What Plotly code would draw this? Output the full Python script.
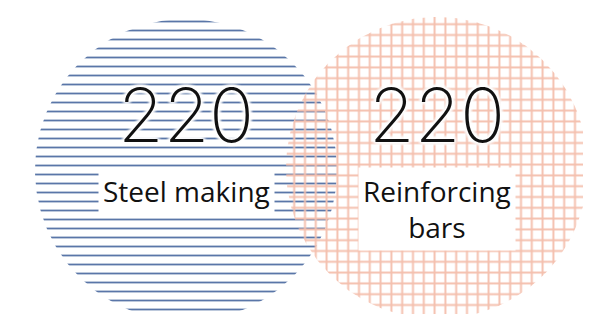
import numpy as np
import plotly.graph_objects as go

# ---- data ----
set_names = ["Steel making", "Reinforcing bars"]
set_labels = ["Steel making", "Reinforcing<br>bars"]
set_values = [220, 220]

# ---- style / layout ----
W, H = 591, 314
centers = [(178, 162), (429, 160)]
radius_scale = 151 / np.sqrt(220)
patterns = [
    dict(shape="-", fgcolor="#5a76a8", bgcolor="rgba(0,0,0,0)", size=9, solidity=0.2, fillmode="replace"),
    dict(shape="+", fgcolor="#f4c0ae", bgcolor="rgba(0,0,0,0)", size=10.8, solidity=0.33, fillmode="replace"),
]

fig = go.Figure()
t = np.linspace(0, 2 * np.pi, 241)
for name, val, (cx, cy), pat in zip(set_names, set_values, centers, patterns):
    r = radius_scale * np.sqrt(val)
    fig.add_trace(go.Scatter(
        x=cx + r * np.cos(t), y=cy + r * np.sin(t),
        mode="lines", line=dict(width=0), fill="toself",
        fillcolor="rgba(0,0,0,0)", fillpattern=pat,
        name=name, hoverinfo="skip", showlegend=False,
    ))

halo = ", ".join(["0 0 4px white"] * 8)
for lab, val, (cx, cy) in zip(set_labels, set_values, centers):
    fig.add_annotation(
        x=cx, y=107, text=str(val), showarrow=False,
        font=dict(family="Inter", size=74, weight=250, color="#111111", shadow=halo),
        xanchor="center", yanchor="middle",
    )
    fig.add_annotation(
        x=cx, y=159, text=lab, showarrow=False,
        font=dict(family="Open Sans", size=28, color="#111111"),
        bgcolor="white", borderpad=4,
        xanchor="center", yanchor="top",
    )

fig.update_layout(
    width=W, height=H,
    margin=dict(l=0, r=0, t=0, b=0),
    paper_bgcolor="white", plot_bgcolor="white",
    xaxis=dict(range=[0, W], visible=False, fixedrange=True),
    yaxis=dict(range=[H, 0], visible=False, fixedrange=True),
    showlegend=False,
)
fig.write_html("out.html")
